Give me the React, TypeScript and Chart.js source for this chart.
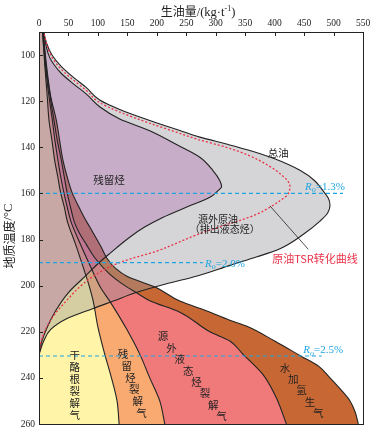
import { useEffect, useRef } from 'react';
import { Chart, registerables } from 'chart.js';

Chart.register(...registerables);

type P = [number, number]; // [生油量 kg/t, 温度 °C]

const xTickValues = [0, 50, 100, 150, 200, 250, 300, 350, 400, 450, 500, 550];
const yTickValues = [100, 120, 140, 160, 180, 200, 220, 240, 260];

// 总油 envelope
const totalOil: P[] = [
  [8, 90], [13, 95], [22, 100], [38, 105], [60, 110], [80, 114], [103, 119.5], [137, 123.6],
  [188, 128.4], [230, 132], [273, 135.6], [320, 138.7], [358, 141.4], [400, 145], [443, 150],
  [468, 154.5], [482, 158.8], [491, 162], [494, 165], [490, 168.5], [477, 172], [450, 177.5],
  [409, 184], [370, 187.5], [324, 191.2], [270, 195.7], [215, 199.3], [165, 203], [126, 206.7],
  [91, 210], [46, 214.5], [20, 219], [8, 224], [0, 230],
];

// 残留烃
const residual: P[] = [
  [8, 90], [12, 96], [18, 101], [25, 104], [38, 108], [60, 112.8], [80, 116.8], [103, 122.4],
  [137, 127.7], [188, 132.8], [235, 139], [273, 144.3], [295, 150], [307, 154.5], [310, 157],
  [303, 159], [290, 161.7], [250, 166], [210, 170.4], [180, 174.5], [154, 179], [119, 186.3],
  [100, 190.5], [79, 195.8], [50, 203], [28, 211], [14, 218], [5, 224], [0, 230],
];

// 原油TSR转化曲线
const tsrCurve: P[] = [
  [9, 91], [14, 96], [22, 101], [37, 106], [58, 110.8], [79, 115], [101, 120.3], [135, 124.5],
  [185, 129.3], [228, 133], [270, 136.6], [318, 140], [356, 143.5], [390, 148], [410, 151.6],
  [422, 154.5], [426, 157], [422, 160.5], [409, 163.2], [392, 166], [370, 169], [346, 171.3],
  [300, 175], [267, 178], [239, 181], [200, 185], [142, 189.5], [107, 193.6], [76, 199],
  [46, 206.7], [25, 213], [11, 219], [4, 224], [0, 229],
];

// cumulative gas curves
const gasKerogen: P[] = [
  [6, 90], [10, 105], [14, 118], [17, 128.4], [22, 137], [26.7, 145.8], [32, 153], [37, 160],
  [43, 166], [48, 172], [62, 182], [75, 192], [85, 200], [92, 206.7], [100, 218], [111.6, 229.7],
  [123, 240], [132.5, 250], [136, 260],
];
const gasResidual: P[] = [
  [6, 90], [11, 105], [17, 118], [22.7, 128.4], [27, 137], [32.3, 145.8], [37, 153], [42.5, 160],
  [48, 166], [54, 172], [72, 183], [88, 192], [105, 201], [120, 206.7], [148, 218.5], [171, 229.7],
  [188, 240], [205, 250], [213.6, 260],
];
const gasExpelled: P[] = [
  [7, 90], [12, 105], [19, 118], [25.5, 128.4], [31, 137], [38, 145.8], [43, 153], [48, 160],
  [53.5, 166], [59.5, 172], [68, 177], [80, 182], [95, 188], [120, 195], [140, 199], [165, 203],
  [188, 206.5], [239, 211.5], [290, 220], [324, 224], [346, 229.7], [380, 238.5], [403, 248.7],
  [420, 260],
];
const gasWater: P[] = [
  [7, 90], [13, 105], [20, 118], [29.5, 128.4], [35, 137], [40.8, 145.8], [48, 153], [56.7, 160],
  [68, 166], [78, 171], [86, 174.5], [95, 178.5], [105, 183], [115, 188], [130, 192.5],
  [150, 196], [175, 198.5], [197, 200.6], [239, 206.7], [285, 211], [324, 215], [352, 217.5],
  [400, 224], [445, 230.6], [475, 235], [494, 240], [512, 245], [528, 250], [537, 255], [542, 260],
];

// Ro iso-lines
const roLevels = [160, 190, 230.5];
const roValues = ['1.3%', '2.0%', '2.5%'];
const roLineEnds = [516, 278, 480];

// leader line for the TSR label
const leaderLine: P[] = [[392, 165.4], [457, 184.2]];

const YELLOW = '#fff4a8';
const ORANGE = '#f8aa70';
const SALMON = '#f07a7a';
const BROWN = '#c76834';
const GRAY = 'rgba(150,150,155,0.4)';
const PURPLE = 'rgba(170,90,170,0.33)';
const BLUE = '#1ea5e1';
const RED = '#ea3148';
const INK = '#222';

const CJK = '"Noto Sans CJK SC", sans-serif';
const SERIF = '"Liberation Serif", "Times New Roman", serif';

const plainLabels = [
  { text: '总油', at: [406, 142.3] as P, size: 10.5, color: INK },
  { text: '残留烃', at: [119, 154.3] as P, size: 10.5, color: INK },
  { text: '源外原油', at: [304, 171.4] as P, size: 10, color: INK },
  { text: '（排出液态烃）', at: [315.5, 175.7] as P, size: 10, color: INK },
  { text: '原油TSR转化曲线', at: [468.5, 188.5] as P, size: 11, color: RED },
];

const stepLabels = [
  { text: '干酪根裂解气', from: [60.7, 230.3] as P, to: [60.7, 256] as P },
  { text: '残留烃裂解气', from: [142.7, 229.8] as P, to: [174, 255.2] as P },
  { text: '源外液态烃裂解气', from: [210.7, 221.9] as P, to: [310, 256.7] as P },
  { text: '水加氢生气', from: [417.5, 235.7] as P, to: [474, 255.2] as P },
];

const roLabelAnchors: P[] = [[451.5, 158.4], [282, 191.9], [448.6, 229.3]];

const toXY = (pts: P[]) => pts.map(([x, y]) => ({ x, y }));

function drawRuns(ctx: any, runs: { t: string; font: string; dy?: number }[], cx: number, cy: number) {
  let total = 0;
  for (const r of runs) { ctx.font = r.font; total += ctx.measureText(r.t).width; }
  let x = cx - total / 2;
  ctx.textAlign = 'left';
  for (const r of runs) {
    ctx.font = r.font;
    ctx.fillText(r.t, x, cy + (r.dy || 0));
    x += ctx.measureText(r.t).width;
  }
}

const decorPlugin = {
  id: 'decor',
  afterDatasetsDraw(chart: any) {
    const { ctx } = chart;
    const sx = chart.scales.x;
    const sy = chart.scales.y;
    const px = (v: number) => sx.getPixelForValue(v);
    const py = (v: number) => sy.getPixelForValue(v);
    ctx.save();
    ctx.textAlign = 'center';
    ctx.textBaseline = 'middle';
    for (const l of plainLabels) {
      ctx.font = `${l.size}px ${CJK}`;
      ctx.fillStyle = l.color;
      ctx.fillText(l.text, px(l.at[0]), py(l.at[1]));
    }
    ctx.font = `10.5px ${CJK}`;
    ctx.fillStyle = INK;
    for (const l of stepLabels) {
      const chars = Array.from(l.text);
      const n = chars.length;
      chars.forEach((c, i) => {
        const t = n > 1 ? i / (n - 1) : 0;
        const x = l.from[0] + (l.to[0] - l.from[0]) * t;
        const y = l.from[1] + (l.to[1] - l.from[1]) * t;
        ctx.fillText(c, px(x), py(y));
      });
    }
    // Ro labels
    ctx.textAlign = 'left';
    ctx.textBaseline = 'alphabetic';
    ctx.fillStyle = BLUE;
    roValues.forEach((v, i) => {
      const x0 = px(roLabelAnchors[i][0]);
      const y0 = py(roLabelAnchors[i][1]);
      ctx.font = `italic 11px ${SERIF}`;
      ctx.fillText('R', x0, y0);
      let w = ctx.measureText('R').width;
      ctx.font = `italic 8px ${SERIF}`;
      ctx.fillText('o', x0 + w, y0 + 2.5);
      w += ctx.measureText('o').width;
      ctx.font = `11px ${SERIF}`;
      ctx.fillText('=' + v, x0 + w, y0);
    });
    ctx.restore();
  },
  afterDraw(chart: any) {
    const { ctx, chartArea: a } = chart;
    const sx = chart.scales.x;
    const sy = chart.scales.y;
    ctx.save();
    ctx.strokeStyle = INK;
    ctx.lineWidth = 1;
    ctx.strokeRect(Math.round(a.left) + 0.5, Math.round(a.top) + 0.5, Math.round(a.right - a.left), Math.round(a.bottom - a.top));
    ctx.beginPath();
    for (const v of xTickValues) {
      const x = Math.round(sx.getPixelForValue(v)) + 0.5;
      ctx.moveTo(x, a.top);
      ctx.lineTo(x, a.top + 4);
    }
    for (const v of yTickValues) {
      const y = Math.round(sy.getPixelForValue(v)) + 0.5;
      ctx.moveTo(a.left, y);
      ctx.lineTo(a.left + 4, y);
    }
    ctx.stroke();
    // axis titles
    ctx.fillStyle = INK;
    ctx.textBaseline = 'alphabetic';
    drawRuns(ctx, [
      { t: '生油量', font: `12px ${CJK}` },
      { t: '/(kg·t', font: `12.5px ${SERIF}` },
      { t: '-1', font: `8px ${SERIF}`, dy: -5 },
      { t: ')', font: `12.5px ${SERIF}` },
    ], (a.left + a.right) / 2 - 3, 15.5);
    ctx.translate(9, 236);
    ctx.rotate(-Math.PI / 2);
    ctx.textBaseline = 'middle';
    drawRuns(ctx, [
      { t: '地质温度', font: `12px ${CJK}` },
      { t: '/°C', font: `12.5px ${SERIF}` },
    ], 0, 0);
    ctx.restore();
  },
};

export default function App() {
  const ref = useRef<HTMLCanvasElement>(null);
  useEffect(() => {
    const canvas = ref.current;
    if (!canvas) return;
    const datasets: any[] = [];
    const add = (d: any) => {
      datasets.push({ pointRadius: 0, pointHoverRadius: 0, ...d });
      return datasets.length - 1;
    };
    const fillBase = { borderWidth: 0, borderColor: 'rgba(0,0,0,0)', cubicInterpolationMode: 'monotone' };
    const iG1 = add({ ...fillBase, data: toXY(gasKerogen), backgroundColor: YELLOW, fill: 'origin' });
    const iG2 = add({ ...fillBase, data: toXY(gasResidual), backgroundColor: ORANGE, fill: iG1 });
    const iG3 = add({ ...fillBase, data: toXY(gasExpelled), backgroundColor: SALMON, fill: iG2 });
    add({ ...fillBase, data: toXY(gasWater), backgroundColor: BROWN, fill: iG3 });
    add({ ...fillBase, data: toXY(totalOil), backgroundColor: GRAY, fill: 'origin' });
    add({ ...fillBase, data: toXY(residual), backgroundColor: PURPLE, fill: 'origin' });
    const strokeBase = { borderColor: INK, borderWidth: 1.1, fill: false, cubicInterpolationMode: 'monotone' };
    for (const c of [gasKerogen, gasResidual, gasExpelled, gasWater, totalOil, residual]) {
      add({ ...strokeBase, data: toXY(c) });
    }
    add({ ...strokeBase, data: toXY(tsrCurve), borderColor: RED, borderWidth: 1.3, borderDash: [2, 2] });
    roLevels.forEach((lv, i) => {
      add({
        data: [{ x: 0, y: lv }, { x: roLineEnds[i], y: lv }],
        borderColor: BLUE, borderWidth: 1.2, borderDash: [4, 3], fill: false, tension: 0,
      });
    });
    add({ data: toXY(leaderLine), borderColor: INK, borderWidth: 0.8, fill: false, tension: 0 });
    datasets.forEach((d, i) => { d.order = datasets.length - i; });

    const chart = new Chart(canvas, {
      type: 'line',
      data: { datasets },
      options: {
        animation: false,
        responsive: false,
        devicePixelRatio: 1,
        indexAxis: 'y',
        events: [],
        layout: { padding: { left: 0, top: 0, right: 15, bottom: 12 } },
        plugins: { legend: { display: false }, tooltip: { enabled: false } },
        scales: {
          x: {
            type: 'linear',
            position: 'top',
            min: 0,
            max: 550,
            grid: { display: false, drawTicks: false },
            border: { display: false },
            ticks: { stepSize: 50, padding: 3, color: INK, font: { family: SERIF, size: 9.5 } },
            afterBuildTicks: (s: any) => { s.ticks = xTickValues.map((v) => ({ value: v })); },
            afterFit: (s: any) => { s.height = 32; },
          },
          y: {
            type: 'linear',
            reverse: true,
            min: 90,
            max: 260,
            grid: { display: false, drawTicks: false },
            border: { display: false },
            ticks: { padding: 4, color: INK, font: { family: SERIF, size: 9.5 } },
            afterBuildTicks: (s: any) => { s.ticks = yTickValues.map((v) => ({ value: v })); },
            afterFit: (s: any) => { s.width = 39; },
          },
        },
      },
      plugins: [decorPlugin],
    } as any);
    return () => chart.destroy();
  }, []);
  return (
    <div style={{ position: 'fixed', left: 0, top: 0, width: 378, height: 436, background: '#fff' }}>
      <canvas ref={ref} width={378} height={436} style={{ display: 'block' }} />
    </div>
  );
}
